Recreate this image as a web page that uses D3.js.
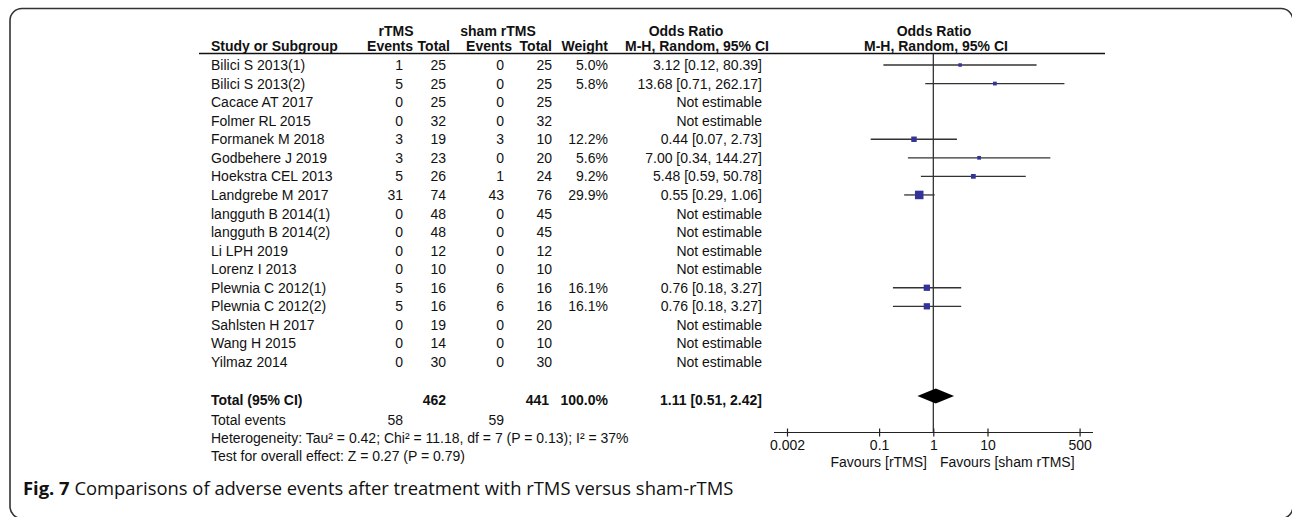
<!DOCTYPE html>
<html>
<head>
<meta charset="utf-8">
<script src="https://cdn.jsdelivr.net/npm/d3@7"></script>
<style>
  body { margin: 0; background: #fff; }
  svg { display: block; }
  text { font-family: "Liberation Sans", Arial, sans-serif; font-size: 14px; fill: #111; }
</style>
</head>
<body>
<script>
// study rows
var studies = ["Bilici S 2013(1)", "Bilici S 2013(2)", "Cacace AT 2017", "Folmer RL 2015",
  "Formanek M 2018", "Godbehere J 2019", "Hoekstra CEL 2013", "Landgrebe M 2017",
  "langguth B 2014(1)", "langguth B 2014(2)", "Li LPH 2019", "Lorenz I 2013",
  "Plewnia C 2012(1)", "Plewnia C 2012(2)", "Sahlsten H 2017", "Wang H 2015", "Yilmaz 2014"];
var rtmsEvents = [1, 5, 0, 0, 3, 3, 5, 31, 0, 0, 0, 0, 5, 5, 0, 0, 0];
var rtmsTotal  = [25, 25, 25, 32, 19, 23, 26, 74, 48, 48, 12, 10, 16, 16, 19, 14, 30];
var shamEvents = [0, 0, 0, 0, 3, 0, 1, 43, 0, 0, 0, 0, 6, 6, 0, 0, 0];
var shamTotal  = [25, 25, 25, 32, 10, 20, 24, 76, 45, 45, 12, 10, 16, 16, 20, 10, 30];
var weights    = [5.0, 5.8, null, null, 12.2, 5.6, 9.2, 29.9, null, null, null, null, 16.1, 16.1, null, null, null];
var orValues   = [3.12, 13.68, null, null, 0.44, 7.00, 5.48, 0.55, null, null, null, null, 0.76, 0.76, null, null, null];
var ciLow      = [0.12, 0.71, null, null, 0.07, 0.34, 0.59, 0.29, null, null, null, null, 0.18, 0.18, null, null, null];
var ciHigh     = [80.39, 262.17, null, null, 2.73, 144.27, 50.78, 1.06, null, null, null, null, 3.27, 3.27, null, null, null];

// pooled result
var totalRtms = 462, totalSham = 441, totalWeight = 100.0;
var pooledOR = 1.11, pooledLow = 0.51, pooledHigh = 2.42;
var eventsRtms = 58, eventsSham = 59;

var axisTicks = [0.002, 0.1, 1, 10, 500];
var axisDomain = [0.002, 500];

var W = 1292, H = 517;

var svg = d3.select("body").append("svg")
  .attr("width", W)
  .attr("height", H);

// frame (right and bottom sides fall just outside the picture)
svg.append("rect")
  .attr("x", 10).attr("y", 8.5)
  .attr("width", 1283).attr("height", 510)
  .attr("rx", 12).attr("ry", 12)
  .attr("fill", "none")
  .attr("stroke", "#333")
  .attr("stroke-width", 1.6);

var x = d3.scaleLog().domain(axisDomain).range([787, 1079.6]);
var y = d3.scalePoint().domain(d3.range(studies.length)).range([65, 362]);

var fmt2 = d3.format(".2f");
var fmtW = function (w) { return d3.format(".1f")(w) + "%"; };

// column right edges
var cols = { re: 403, rt: 446, se: 504, st: 552, w: 608, or: 762 };

// header
var groupHead = svg.append("g").style("font-weight", "bold").attr("text-anchor", "middle");
groupHead.append("text").attr("x", 396).attr("y", 36).text("rTMS");
groupHead.append("text").attr("x", 498).attr("y", 36).text("sham rTMS");
groupHead.append("text").attr("x", 686).attr("y", 36).text("Odds Ratio");
groupHead.append("text").attr("x", 934).attr("y", 36).text("Odds Ratio");

var head = svg.append("g").style("font-weight", "bold");
head.append("text").attr("x", 211).attr("y", 51).text("Study or Subgroup");
[["Events", cols.re + 10], ["Total", cols.rt + 4], ["Events", cols.se + 8], ["Total", cols.st], ["Weight", cols.w]]
  .forEach(function (h) {
    head.append("text").attr("x", h[1]).attr("y", 51).attr("text-anchor", "end").text(h[0]);
  });
head.append("text").attr("x", 697).attr("y", 51).attr("text-anchor", "middle").text("M-H, Random, 95% CI");
head.append("text").attr("x", 936).attr("y", 51).attr("text-anchor", "middle").text("M-H, Random, 95% CI");

svg.append("line")
  .attr("x1", 199).attr("x2", 1105)
  .attr("y1", 53.5).attr("y2", 53.5)
  .attr("stroke", "#111").attr("stroke-width", 1.3);

// study rows
var rows = svg.append("g").selectAll("g")
  .data(studies)
  .enter()
  .append("g")
  .attr("transform", function (d, i) { return "translate(0," + (y(i) + 5) + ")"; });

rows.append("text").attr("x", 211).text(function (d) { return d; });
rows.append("text").attr("x", cols.re).attr("text-anchor", "end").text(function (d, i) { return rtmsEvents[i]; });
rows.append("text").attr("x", cols.rt).attr("text-anchor", "end").text(function (d, i) { return rtmsTotal[i]; });
rows.append("text").attr("x", cols.se).attr("text-anchor", "end").text(function (d, i) { return shamEvents[i]; });
rows.append("text").attr("x", cols.st).attr("text-anchor", "end").text(function (d, i) { return shamTotal[i]; });
rows.append("text").attr("x", cols.w).attr("text-anchor", "end")
  .text(function (d, i) { return weights[i] == null ? "" : fmtW(weights[i]); });
rows.append("text").attr("x", cols.or).attr("text-anchor", "end")
  .text(function (d, i) {
    if (orValues[i] == null) return "Not estimable";
    return fmt2(orValues[i]) + " [" + fmt2(ciLow[i]) + ", " + fmt2(ciHigh[i]) + "]";
  });

// line of no effect
svg.append("line")
  .attr("x1", x(1)).attr("x2", x(1))
  .attr("y1", 53.5).attr("y2", 432.5)
  .attr("stroke", "#222").attr("stroke-width", 1.2);

// CI lines and squares
var est = d3.range(studies.length).filter(function (i) { return orValues[i] != null; });

svg.append("g").selectAll("line")
  .data(est)
  .enter()
  .append("line")
  .attr("x1", function (i) { return x(ciLow[i]); })
  .attr("x2", function (i) { return x(ciHigh[i]); })
  .attr("y1", function (i) { return y(i); })
  .attr("y2", function (i) { return y(i); })
  .attr("stroke", "#333")
  .attr("stroke-width", 1.3);

svg.append("g").selectAll("rect")
  .data(est)
  .enter()
  .append("rect")
  .attr("x", function (i) { return x(orValues[i]) - 0.78 * Math.sqrt(weights[i]); })
  .attr("y", function (i) { return y(i) - 0.78 * Math.sqrt(weights[i]); })
  .attr("width", function (i) { return 1.56 * Math.sqrt(weights[i]); })
  .attr("height", function (i) { return 1.56 * Math.sqrt(weights[i]); })
  .attr("fill", "#333399");

// totals
var totY = 400;
var tot = svg.append("g").style("font-weight", "bold");
tot.append("text").attr("x", 211).attr("y", totY + 5).text("Total (95% CI)");
tot.append("text").attr("x", cols.rt).attr("y", totY + 5).attr("text-anchor", "end").text(totalRtms);
tot.append("text").attr("x", cols.st - 3).attr("y", totY + 5).attr("text-anchor", "end").text(totalSham);
tot.append("text").attr("x", cols.w).attr("y", totY + 5).attr("text-anchor", "end").text(fmtW(totalWeight));
tot.append("text").attr("x", cols.or).attr("y", totY + 5).attr("text-anchor", "end")
  .text(fmt2(pooledOR) + " [" + fmt2(pooledLow) + ", " + fmt2(pooledHigh) + "]");

svg.append("path")
  .attr("d", "M" + x(pooledLow) + "," + (totY - 4) +
    " L" + x(pooledOR) + "," + (totY - 11.5) +
    " L" + x(pooledHigh) + "," + (totY - 4) +
    " L" + x(pooledOR) + "," + (totY + 3.5) + " Z")
  .attr("fill", "#000");

svg.append("text").attr("x", 211).attr("y", 425).text("Total events");
svg.append("text").attr("x", cols.re).attr("y", 425).attr("text-anchor", "end").text(eventsRtms);
svg.append("text").attr("x", cols.se).attr("y", 425).attr("text-anchor", "end").text(eventsSham);
svg.append("text").attr("x", 211).attr("y", 443)
  .text("Heterogeneity: Tau\u00b2 = 0.42; Chi\u00b2 = 11.18, df = 7 (P = 0.13); I\u00b2 = 37%");
svg.append("text").attr("x", 211).attr("y", 461)
  .text("Test for overall effect: Z = 0.27 (P = 0.79)");

// axis
var axisG = svg.append("g").attr("transform", "translate(0,432.5)");
axisG.append("line")
  .attr("x1", 774).attr("x2", 1093)
  .attr("stroke", "#222").attr("stroke-width", 1.2);
axisG.call(d3.axisBottom(x)
    .tickValues(axisTicks)
    .tickFormat(function (d) { return String(d); })
    .tickSize(4)
    .tickSizeOuter(0));
axisG.select(".domain").remove();
axisG.selectAll(".tick line").attr("y1", -4).attr("stroke", "#222").attr("stroke-width", 1.2);
axisG.selectAll(".tick text")
  .attr("y", 8)
  .style("font-family", "'Liberation Sans', Arial, sans-serif")
  .style("font-size", "14px")
  .attr("fill", "#111");

svg.append("text").attr("x", 927).attr("y", 466.5).attr("text-anchor", "end").text("Favours [rTMS]");
svg.append("text").attr("x", 940).attr("y", 466.5).text("Favours [sham rTMS]");

// caption
var cap = svg.append("text").attr("x", 23).attr("y", 495)
  .style("font-family", "'Open Sans', sans-serif")
  .style("font-size", "18.4px")
  .attr("fill", "#222");
cap.append("tspan").style("font-weight", "bold").text("Fig. 7");
cap.append("tspan").text(" Comparisons of adverse events after treatment with rTMS versus sham-rTMS");
</script>
</body>
</html>
